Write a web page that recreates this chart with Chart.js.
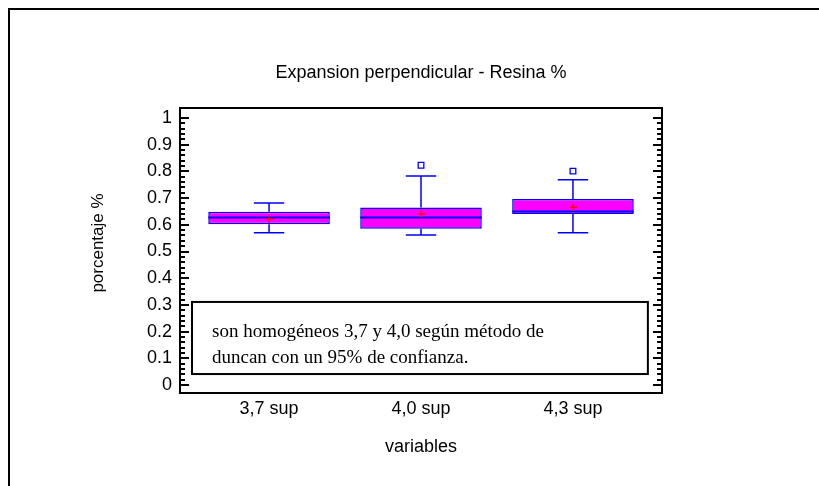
<!DOCTYPE html>
<html>
<head>
<meta charset="utf-8">
<script src="https://cdn.jsdelivr.net/npm/chart.js@4/dist/chart.umd.min.js"></script>
<style>
  html, body { margin: 0; padding: 0; background: #fff; }
</style>
</head>
<body>
<canvas id="boxChart" width="819" height="486"></canvas>
<script>
  // box plot values
  const categories = ['3,7 sup', '4,0 sup', '4,3 sup'];
  const positions = [1, 2, 3];
  const q1 = [0.602, 0.585, 0.640];
  const q3 = [0.649, 0.665, 0.697];
  const medians = [0.627, 0.627, 0.650];
  const means = [0.622, 0.641, 0.665];
  const whiskerLow = [0.570, 0.562, 0.570];
  const whiskerHigh = [0.682, 0.783, 0.769];
  const outlierX = [2, 3];
  const outlierY = [0.823, 0.801];
  const yTicks = [0, 0.1, 0.2, 0.3, 0.4, 0.5, 0.6, 0.7, 0.8, 0.9, 1];
  const yTickLabels = ['0', '0.1', '0.2', '0.3', '0.4', '0.5', '0.6', '0.7', '0.8', '0.9', '1'];

  const titleText = 'Expansion perpendicular - Resina %';
  const xLabel = 'variables';
  const yLabel = 'porcentaje %';
  const noteLines = ['son homogéneos 3,7 y 4,0 según método de', 'duncan con un 95% de confianza.'];
  // note box corners, in axis units
  const noteBox = {x0: 0.493, x1: 3.493, y0: 0.311, y1: 0.041};

  const sans = '"Liberation Sans", Arial, sans-serif';
  const serif = '"Liberation Serif", "Times New Roman", serif';

  const boxExtras = {
    id: 'boxExtras',
    beforeDraw(chart) {
      const ctx = chart.ctx;
      ctx.save();
      ctx.fillStyle = '#fff';
      ctx.fillRect(0, 0, chart.width, chart.height);
      ctx.strokeStyle = '#000';
      ctx.lineWidth = 2;
      ctx.strokeRect(9, 9, 2000, 2000);
      ctx.restore();
    },
    afterDatasetDraw(chart, args) {
      if (args.index !== 0) return;
      const ctx = chart.ctx;
      const xs = chart.scales.x, ys = chart.scales.y;
      const bars = chart.getDatasetMeta(0).data;
      ctx.save();
      ctx.strokeStyle = '#0000ff';
      positions.forEach((p, i) => {
        const cx = xs.getPixelForValue(p);
        const capL = xs.getPixelForValue(p - 0.1), capR = xs.getPixelForValue(p + 0.1);
        const half = bars[i].width / 2;
        ctx.lineWidth = 1.5;
        ctx.beginPath();
        ctx.moveTo(cx, ys.getPixelForValue(q3[i]));
        ctx.lineTo(cx, ys.getPixelForValue(whiskerHigh[i]));
        ctx.moveTo(capL, ys.getPixelForValue(whiskerHigh[i]));
        ctx.lineTo(capR, ys.getPixelForValue(whiskerHigh[i]));
        ctx.moveTo(cx, ys.getPixelForValue(q1[i]));
        ctx.lineTo(cx, ys.getPixelForValue(whiskerLow[i]));
        ctx.moveTo(capL, ys.getPixelForValue(whiskerLow[i]));
        ctx.lineTo(capR, ys.getPixelForValue(whiskerLow[i]));
        ctx.stroke();
        ctx.lineWidth = 2;
        ctx.beginPath();
        ctx.moveTo(cx - half, ys.getPixelForValue(medians[i]));
        ctx.lineTo(cx + half, ys.getPixelForValue(medians[i]));
        ctx.stroke();
      });
      ctx.restore();
    },
    afterDraw(chart) {
      const ctx = chart.ctx;
      const a = chart.chartArea;
      const xs = chart.scales.x, ys = chart.scales.y;
      ctx.save();
      // tick marks pointing inward on both sides
      ctx.strokeStyle = '#000';
      ctx.lineWidth = 2;
      ctx.beginPath();
      for (let k = 0; k <= 50; k++) {
        const y = Math.round(ys.getPixelForValue(k * 0.02));
        const len = k % 5 === 0 ? 9 : 5;
        ctx.moveTo(a.left, y); ctx.lineTo(a.left + len, y);
        ctx.moveTo(a.right, y); ctx.lineTo(a.right - len, y);
      }
      ctx.stroke();
      // plot frame
      ctx.lineWidth = 2;
      ctx.strokeRect(a.left, a.top, a.right - a.left, a.bottom - a.top);

      // note box
      const bx = xs.getPixelForValue(noteBox.x0), bx2 = xs.getPixelForValue(noteBox.x1);
      const by = ys.getPixelForValue(noteBox.y0), by2 = ys.getPixelForValue(noteBox.y1);
      ctx.fillStyle = '#fff';
      ctx.fillRect(bx, by, bx2 - bx, by2 - by);
      ctx.strokeRect(bx, by, bx2 - bx, by2 - by);
      ctx.fillStyle = '#000';
      ctx.font = '19px ' + serif;
      ctx.textAlign = 'left';
      ctx.textBaseline = 'alphabetic';
      noteLines.forEach((line, i) => ctx.fillText(line, bx + 20, by + 35 + i * 26));

      // y axis label
      ctx.translate(98, 243);
      ctx.rotate(-Math.PI / 2);
      ctx.font = '17px ' + sans;
      ctx.textAlign = 'center';
      ctx.textBaseline = 'middle';
      ctx.fillText(yLabel, 0, 0);
      ctx.restore();
    }
  };

  const ctx = document.getElementById('boxChart').getContext('2d');
  new Chart(ctx, {
    type: 'bar',
    data: {
      datasets: [
        {
          type: 'bar',
          data: positions.map((p, i) => ({x: p, y: [q1[i], q3[i]]})),
          backgroundColor: '#ff00ff',
          borderColor: '#0000ff',
          borderWidth: 1.5,
          borderSkipped: false,
          barPercentage: 0.8,
          categoryPercentage: 1,
          order: 3
        },
        {
          type: 'scatter',
          data: positions.map((p, i) => ({x: p, y: means[i]})),
          pointStyle: 'cross',
          radius: 4,
          borderColor: '#ff0000',
          borderWidth: 1.2,
          order: 1
        },
        {
          type: 'scatter',
          data: outlierX.map((p, i) => ({x: p, y: outlierY[i]})),
          pointStyle: 'rect',
          radius: 4,
          backgroundColor: '#fff',
          borderColor: '#0000ff',
          borderWidth: 1.3,
          order: 2
        }
      ]
    },
    options: {
      responsive: false,
      animation: false,
      events: [],
      layout: {padding: {top: 62, right: 157, left: 0, bottom: 0}},
      plugins: {
        legend: {display: false},
        tooltip: {enabled: false},
        title: {
          display: true,
          text: titleText,
          fullSize: false,
          color: '#000',
          font: {family: sans, size: 18, weight: 'normal'},
          padding: {top: 0, bottom: 24.4}
        }
      },
      scales: {
        x: {
          type: 'linear',
          offset: false,
          min: 0.414,
          max: 3.586,
          grid: {display: false, drawTicks: false},
          border: {display: false},
          afterBuildTicks: (scale) => { scale.ticks = positions.map(v => ({value: v})); },
          afterFit: (scale) => { scale.height = 93; },
          ticks: {
            color: '#000',
            padding: 5,
            maxRotation: 0,
            font: {family: sans, size: 18},
            callback: (v) => categories[positions.indexOf(v)]
          },
          title: {
            display: true,
            text: xLabel,
            color: '#000',
            font: {family: sans, size: 18},
            padding: {top: 0, bottom: 28}
          }
        },
        y: {
          min: -0.03,
          max: 1.0375,
          grid: {display: false, drawTicks: false},
          border: {display: false},
          afterBuildTicks: (scale) => { scale.ticks = yTicks.map(v => ({value: v})); },
          afterFit: (scale) => { scale.width = 180; },
          ticks: {
            color: '#000',
            padding: 8,
            font: {family: sans, size: 18},
            callback: (v) => yTickLabels[yTicks.indexOf(v)]
          }
        }
      }
    },
    plugins: [boxExtras]
  });
</script>
</body>
</html>
